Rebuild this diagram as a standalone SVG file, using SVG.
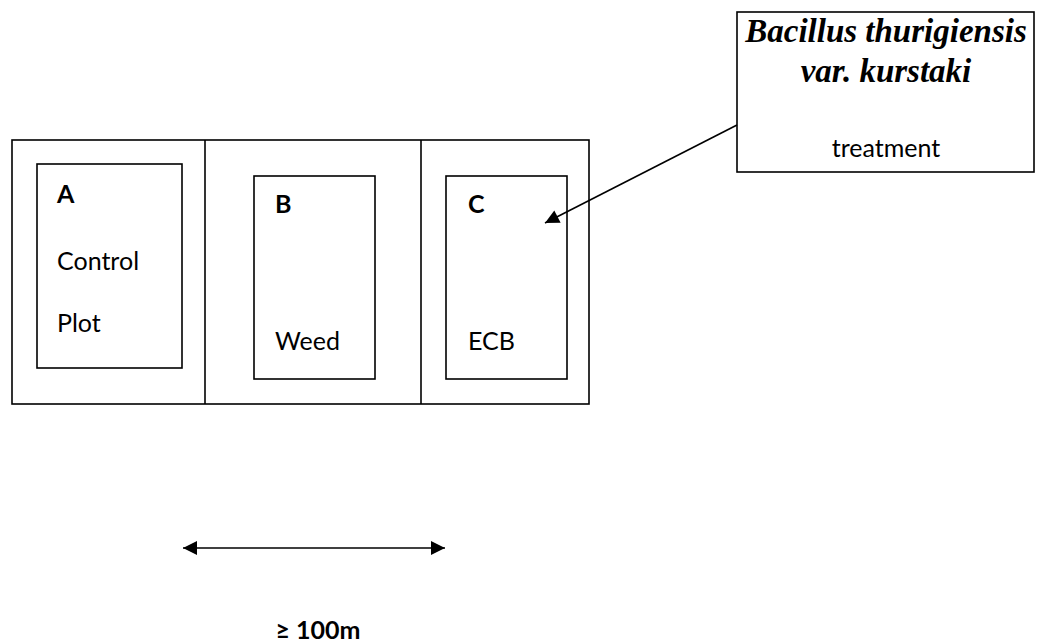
<svg xmlns="http://www.w3.org/2000/svg" width="1046" height="644" viewBox="0 0 1046 644">
<defs>
<style>
.box{fill:#fff;stroke:#000;stroke-width:1.6}
.ln{stroke:#000;stroke-width:1.6;fill:none}
.t{font-family:Lato,"Open Sans",sans-serif;font-size:25px;fill:#000}
.b{font-weight:bold}
.bi{font-family:"Liberation Serif","Times New Roman",serif;font-size:33px;font-weight:bold;font-style:italic;fill:#000}
</style>
<marker id="ah" viewBox="0 0 10 10" refX="10" refY="5" markerWidth="17" markerHeight="14" markerUnits="userSpaceOnUse" orient="auto-start-reverse">
<path d="M0,0 L10,5 L0,10 z" fill="#000"/>
</marker>
</defs>
<g id="field">
<rect class="box" x="12" y="140" width="577" height="264"/>
<line class="ln" x1="205" y1="140" x2="205" y2="404"/>
<line class="ln" x1="421" y1="140" x2="421" y2="404"/>
</g>
<g id="plotA">
<rect class="box" x="37" y="164" width="145" height="204"/>
<text class="t b" x="57" y="203">A</text>
<text class="t" x="57" y="270">Control</text>
<text class="t" x="57" y="332">Plot</text>
</g>
<g id="plotB">
<rect class="box" x="254" y="176" width="121" height="203"/>
<text class="t b" x="275" y="213">B</text>
<text class="t" x="275" y="350">Weed</text>
</g>
<g id="plotC">
<rect class="box" x="446" y="176" width="121" height="203"/>
<text class="t b" x="468" y="213">C</text>
<text class="t" x="468" y="350">ECB</text>
</g>
<g id="treatment">
<rect class="box" x="737" y="12" width="297" height="160"/>
<text class="bi" x="886" y="42" text-anchor="middle">Bacillus thurigiensis</text>
<text class="bi" x="886" y="82" text-anchor="middle">var. kurstaki</text>
<text class="t" x="886" y="157" text-anchor="middle">treatment</text>
</g>
<g id="connectors">
<line class="ln" x1="737" y1="125" x2="545" y2="223" marker-end="url(#ah)"/>
<line class="ln" x1="183" y1="548" x2="445" y2="548" marker-start="url(#ah)" marker-end="url(#ah)"/>
</g>
<g id="scale">
<text class="t b" x="318" y="639" text-anchor="middle">≥ 100m</text>
</g>
</svg>
